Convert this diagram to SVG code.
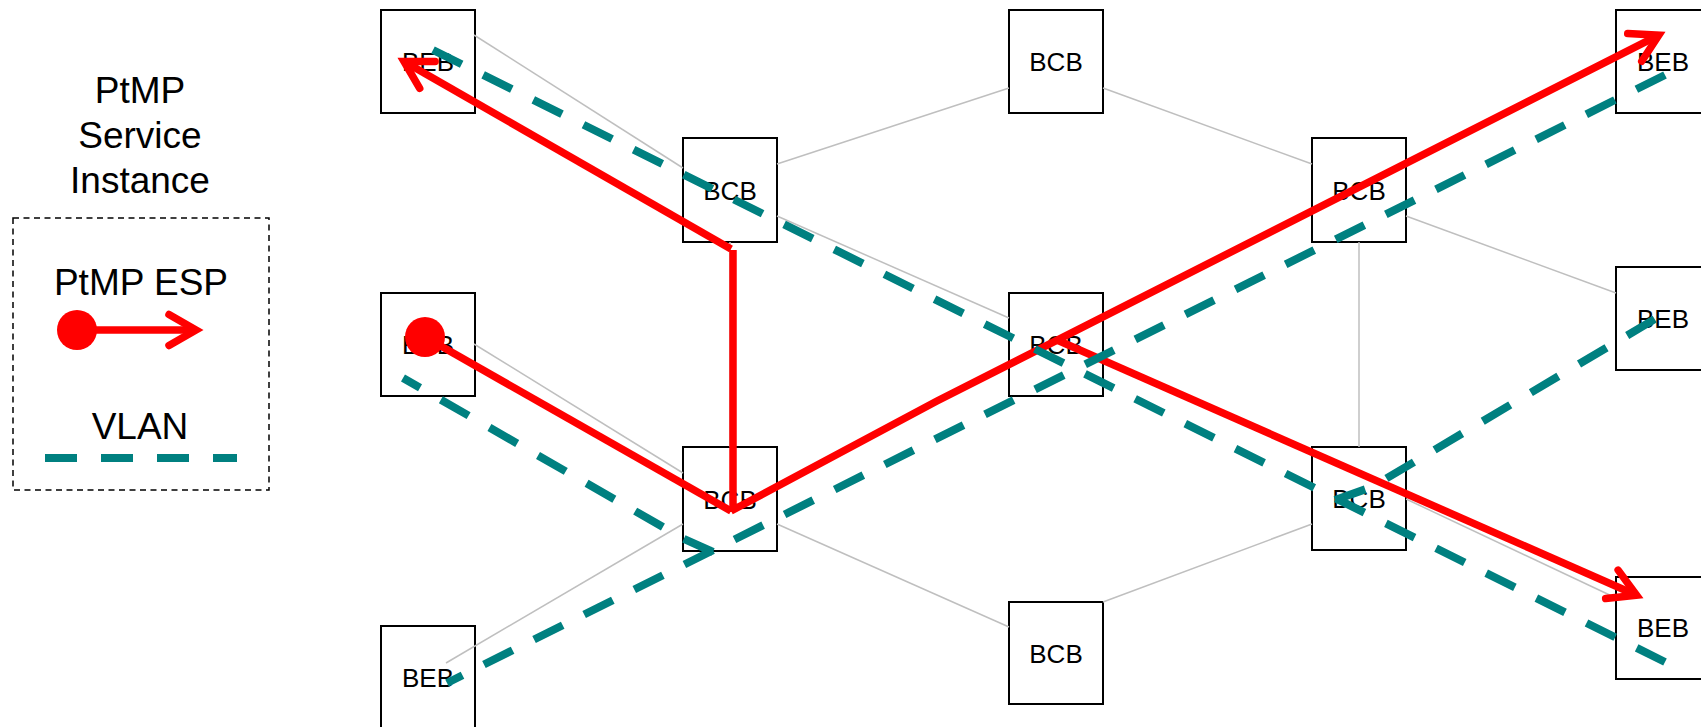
<svg xmlns="http://www.w3.org/2000/svg" width="1701" height="727" viewBox="0 0 1701 727">
<style>
.box{fill:#FFFFFF;stroke:#000000;stroke-width:2}
.lbl{font-family:"Liberation Sans",Arial,sans-serif;font-size:26px;fill:#000000;text-anchor:middle}
.leg{font-family:"Liberation Sans",Arial,sans-serif;font-size:37px;fill:#000000;text-anchor:middle}
.link{stroke:#BFBFBF;stroke-width:1.5;fill:none}
.esp{stroke:#FF0000;stroke-width:7.5;fill:none;stroke-linecap:butt}
.vlan{stroke:#008080;stroke-width:8;fill:none;stroke-dasharray:32 24;stroke-linecap:butt}
</style>
<defs>
<marker id="arr" markerUnits="userSpaceOnUse" orient="auto" viewBox="-40 -30 60 60" refX="0" refY="0" markerWidth="60" markerHeight="60" overflow="visible">
<path d="M-27,-15.5 L0,0 L-27,15.5" fill="none" stroke="#FF0000" stroke-width="7.5" stroke-linecap="round" stroke-linejoin="miter" stroke-miterlimit="4"/>
</marker>
</defs>

<g id="legend">
<text class="leg" x="140" y="103">PtMP</text>
<text class="leg" x="140" y="148">Service</text>
<text class="leg" x="140" y="193">Instance</text>
<rect x="13" y="218" width="256" height="272" fill="none" stroke="#000000" stroke-width="1.5" stroke-dasharray="6 4.5"/>
<text class="leg" x="141" y="295">PtMP ESP</text>
<circle cx="77" cy="330" r="20" fill="#FF0000"/>
<line class="esp" x1="77" y1="330" x2="196" y2="330" marker-end="url(#arr)"/>
<text class="leg" x="140" y="439">VLAN</text>
<line class="vlan" x1="45" y1="458" x2="237" y2="458"/>
</g>

<g id="beb-l1"><rect class="box" x="381" y="10" width="94" height="103"/><text class="lbl" x="428" y="71">BEB</text></g>
<g id="beb-l2"><rect class="box" x="381" y="293" width="94" height="103"/><text class="lbl" x="428" y="354">BEB</text></g>
<g id="beb-l3"><rect class="box" x="381" y="626" width="94" height="103"/><text class="lbl" x="428" y="687">BEB</text></g>
<g id="bcb-l1"><rect class="box" x="683" y="138" width="94" height="104"/><text class="lbl" x="730" y="199.5">BCB</text></g>
<g id="bcb-l2"><rect class="box" x="683" y="447" width="94" height="104"/><text class="lbl" x="730" y="508.5">BCB</text></g>
<g id="bcb-t"><rect class="box" x="1009" y="10" width="94" height="103"/><text class="lbl" x="1056" y="71">BCB</text></g>
<g id="bcb-c"><rect class="box" x="1009" y="293" width="94" height="103"/><text class="lbl" x="1056" y="354">BCB</text></g>
<g id="bcb-b"><rect class="box" x="1009" y="602" width="94" height="102"/><text class="lbl" x="1056" y="662.5">BCB</text></g>
<g id="bcb-r1"><rect class="box" x="1312" y="138" width="94" height="104"/><text class="lbl" x="1359" y="199.5">BCB</text></g>
<g id="bcb-r2"><rect class="box" x="1312" y="447" width="94" height="103"/><text class="lbl" x="1359" y="508">BCB</text></g>
<g id="beb-r1"><rect class="box" x="1616" y="10" width="94" height="103"/><text class="lbl" x="1663" y="71">BEB</text></g>
<g id="beb-r2"><rect class="box" x="1616" y="267" width="94" height="103"/><text class="lbl" x="1663" y="328">BEB</text></g>
<g id="beb-r3"><rect class="box" x="1616" y="577" width="94" height="102"/><text class="lbl" x="1663" y="637">BEB</text></g>

<g id="connectors">
<g id="links">
<line class="link" x1="474" y1="35" x2="683" y2="168"/>
<line class="link" x1="777" y1="164" x2="1009" y2="88"/>
<line class="link" x1="1103" y1="88" x2="1312" y2="164"/>
<line class="link" x1="777" y1="216" x2="1009" y2="318"/>
<line class="link" x1="474" y1="344" x2="683" y2="473"/>
<line class="link" x1="446" y1="663" x2="683" y2="524"/>
<line class="link" x1="777" y1="524" x2="1009" y2="627"/>
<line class="link" x1="1103" y1="602" x2="1312" y2="524"/>
<line class="link" x1="1359" y1="242" x2="1359" y2="447"/>
<line class="link" x1="1406" y1="216" x2="1616" y2="293"/>
<line class="link" x1="1406" y1="499" x2="1616" y2="598"/>
<line class="link" x1="730" y1="242" x2="730" y2="447"/>
</g>
<g id="esp">
<circle cx="425" cy="337" r="20" fill="#FF0000"/>
<line class="esp" x1="425" y1="337" x2="731" y2="511"/>
<line class="esp" x1="733" y1="512" x2="733" y2="250"/>
<line class="esp" x1="731" y1="249" x2="404" y2="61.5" marker-end="url(#arr)"/>
<polyline class="esp" points="731,511 937,401 1658.8,35.2" marker-end="url(#arr)"/>
<line class="esp" x1="1057" y1="340" x2="1636.6" y2="595.2" marker-end="url(#arr)"/>
</g>
<g id="vlan">
<line class="vlan" x1="433" y1="50" x2="1665" y2="662"/>
<line class="vlan" x1="1665" y1="75" x2="447" y2="683"/>
<polyline class="vlan" points="713,552 682,538 403,378"/>
<polyline class="vlan" points="1335,500 1372,487 1665,313"/>
</g>
</g>
</svg>
